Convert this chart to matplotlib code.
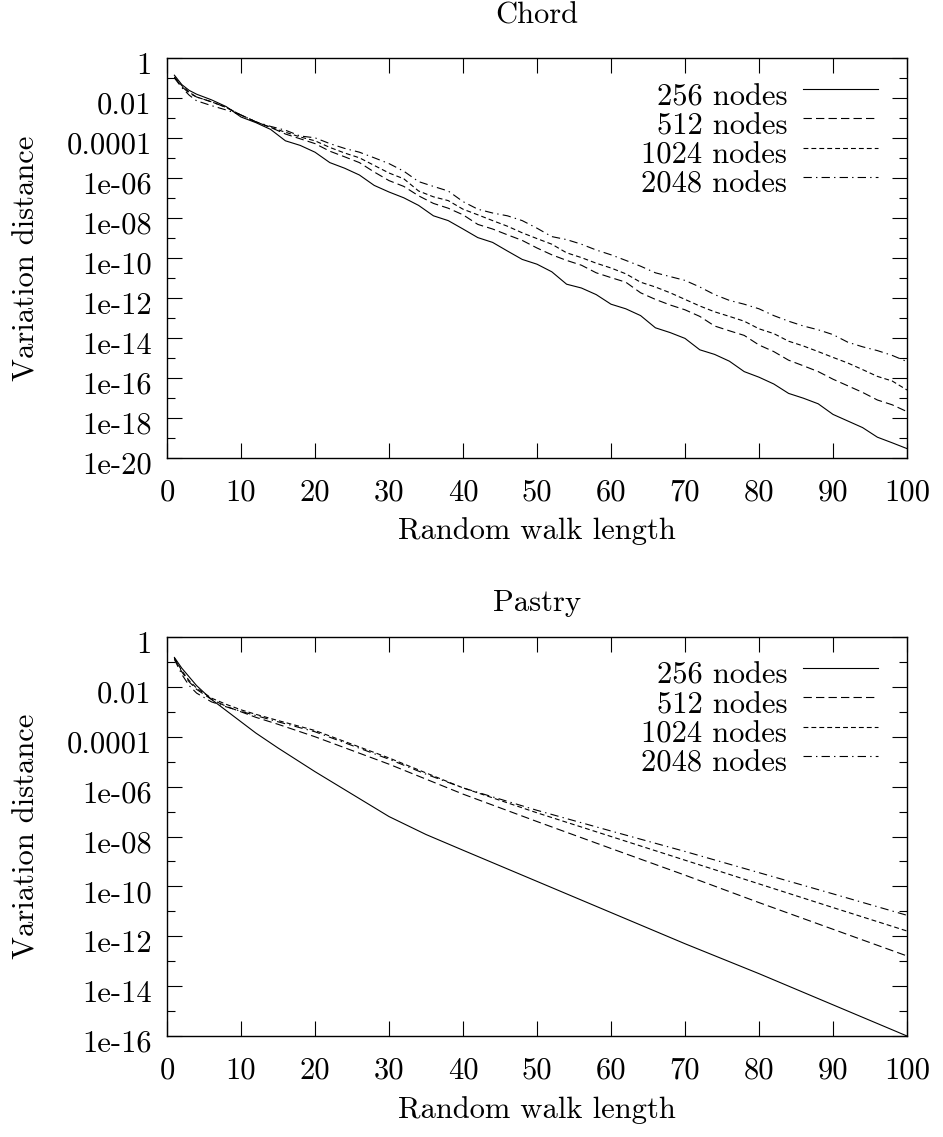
import numpy as np
import matplotlib
matplotlib.use("Agg")
import matplotlib.pyplot as plt
from matplotlib.ticker import FixedLocator, FixedFormatter, NullFormatter
from matplotlib.transforms import ScaledTranslation

plt.rcParams["font.family"] = ["cmr10", "DejaVu Serif"]
plt.rcParams["font.size"] = 22
plt.rcParams["axes.unicode_minus"] = False
plt.rcParams["lines.scale_dashes"] = False

# values are log10(variation distance)
chord_x = [1, 2, 3, 4, 6, 8, 10, 12, 14, 16, 18, 20, 22, 24, 26, 28, 30, 32, 34, 36,
           38, 40, 42, 44, 46, 48, 50, 52, 54, 56, 58, 60, 62, 64, 66, 68, 70, 72, 74,
           76, 78, 80, 82, 84, 86, 88, 90, 92, 94, 96, 98, 100]
chord_256 = [-0.86, -1.33, -1.62, -1.81, -2.09, -2.43, -2.95, -3.23, -3.57, -4.14,
             -4.37, -4.71, -5.23, -5.51, -5.85, -6.37, -6.70, -6.99, -7.37, -7.89,
             -8.13, -8.55, -8.98, -9.22, -9.65, -10.07, -10.31, -10.69, -11.31, -11.50,
             -11.83, -12.31, -12.54, -12.88, -13.49, -13.73, -14.02, -14.59, -14.82,
             -15.16, -15.68, -15.96, -16.30, -16.77, -17.01, -17.29, -17.82, -18.15,
             -18.48, -18.96, -19.24, -19.53]
chord_512 = [-0.95, -1.43, -1.76, -1.95, -2.19, -2.47, -2.85, -3.19, -3.47, -3.80,
             -4.04, -4.28, -4.66, -4.94, -5.23, -5.70, -6.13, -6.42, -6.89, -7.27,
             -7.51, -7.84, -8.32, -8.55, -8.84, -9.12, -9.50, -9.84, -10.12, -10.36,
             -10.74, -10.98, -11.21, -11.74, -12.07, -12.35, -12.59, -12.92, -13.40,
             -13.64, -13.87, -14.35, -14.68, -15.11, -15.39, -15.68, -16.06, -16.39,
             -16.72, -17.10, -17.34, -17.68]
chord_1024 = [-0.95, -1.38, -1.71, -1.95, -2.19, -2.47, -2.85, -3.19, -3.47, -3.71,
              -3.95, -4.14, -4.47, -4.75, -4.99, -5.37, -5.75, -6.04, -6.65, -6.94,
              -7.13, -7.56, -7.84, -8.13, -8.41, -8.74, -9.03, -9.31, -9.74, -9.98,
              -10.26, -10.50, -10.79, -11.21, -11.45, -11.74, -12.07, -12.40, -12.69,
              -12.92, -13.16, -13.54, -13.78, -14.16, -14.40, -14.68, -14.97, -15.25,
              -15.58, -15.92, -16.15, -16.60]
chord_2048 = [-1.00, -1.48, -1.86, -2.14, -2.38, -2.60, -2.85, -3.19, -3.42, -3.61,
              -3.90, -3.99, -4.28, -4.52, -4.71, -4.99, -5.28, -5.66, -6.18, -6.42,
              -6.65, -7.18, -7.56, -7.75, -7.89, -8.13, -8.51, -8.93, -9.08, -9.31,
              -9.60, -9.84, -10.12, -10.41, -10.74, -10.93, -11.12, -11.45, -11.83,
              -12.12, -12.31, -12.54, -12.88, -13.16, -13.40, -13.59, -13.83, -14.21,
              -14.44, -14.63, -14.87, -15.18]

pastry_x = [1, 2, 3, 4, 6, 8, 10, 12, 15, 20, 25, 30, 35, 40, 50, 60, 70, 80, 90, 100]
pastry_256 = [-0.82, -1.25, -1.60, -1.95, -2.50, -2.95, -3.40, -3.85, -4.45, -5.40,
              -6.30, -7.20, -7.92, -8.55, -9.80, -11.05, -12.30, -13.50, -14.75, -16.00]
pastry_512 = [-0.85, -1.40, -1.80, -2.10, -2.50, -2.78, -3.00, -3.22, -3.50, -4.00,
              -4.55, -5.10, -5.70, -6.30, -7.40, -8.48, -9.55, -10.65, -11.72, -12.79]
pastry_1024 = [-0.85, -1.35, -1.75, -2.05, -2.45, -2.70, -2.92, -3.10, -3.35, -3.75,
               -4.30, -4.85, -5.45, -6.05, -7.05, -8.00, -8.95, -9.90, -10.85, -11.79]
pastry_2048 = [-0.90, -1.50, -1.95, -2.25, -2.60, -2.80, -2.98, -3.15, -3.40, -3.80,
               -4.35, -4.90, -5.50, -6.05, -6.95, -7.78, -8.60, -9.45, -10.30, -11.16]

series_labels = ["256 nodes", "512 nodes", "1024 nodes", "2048 nodes"]
line_styles = ["-", (0, (6, 3)), (0, (3.5, 2.2)), (0, (6, 3, 1, 3))]

chord_yticks = ["1", "0.01", "0.0001", "1e-06", "1e-08", "1e-10", "1e-12",
                "1e-14", "1e-16", "1e-18", "1e-20"]
pastry_yticks = ["1", "0.01", "0.0001", "1e-06", "1e-08", "1e-10", "1e-12",
                 "1e-14", "1e-16"]
xticks = [0, 10, 20, 30, 40, 50, 60, 70, 80, 90, 100]

W, H = 943, 1137
fig = plt.figure(figsize=(W / 100, H / 100), dpi=100)


def panel(top_px, bottom_px, title, title_px, xlabel_px, x, ys, ylabels):
    ax = fig.add_axes([167 / W, 1 - bottom_px / H, 740 / W, (bottom_px - top_px) / H])
    for y, ls in zip(ys, line_styles):
        ax.plot(x, 10.0 ** np.array(y), color="black", linewidth=0.8, linestyle=ls)
    n = len(ylabels)
    ax.set_yscale("log")
    ax.set_xlim(0, 100)
    ax.set_ylim(10.0 ** (-2 * (n - 1)), 1)
    major = [10.0 ** (-2 * i) for i in range(n)]
    minor = [10.0 ** (-2 * i - 1) for i in range(n - 1)]
    ax.yaxis.set_major_locator(FixedLocator(major))
    ax.yaxis.set_major_formatter(FixedFormatter(ylabels))
    ax.yaxis.set_minor_locator(FixedLocator(minor))
    ax.yaxis.set_minor_formatter(NullFormatter())
    ax.set_xticks(xticks)
    ax.set_xticklabels([str(t) for t in xticks])
    ax.tick_params(which="both", direction="in", top=True, right=True, width=0.8)
    ax.tick_params(which="major", length=11)
    ax.tick_params(which="minor", length=5.5)
    ax.tick_params(axis="x", pad=15)
    ax.tick_params(axis="y", pad=11)
    for s in ax.spines.values():
        s.set_linewidth(1.0)
    # gnuplot puts the y labels a few pixels below their ticks
    shift = ScaledTranslation(0, -5 / 100, fig.dpi_scale_trans)
    for lbl in ax.get_yticklabels():
        lbl.set_transform(lbl.get_transform() + shift)

    # gnuplot-style key: right-justified text, sample to the right
    h = bottom_px - top_px
    for i, (lab, ls) in enumerate(zip(series_labels, line_styles)):
        yf = 1 - (31 + 29.3 * i) / h
        ax.text(0.838, yf - 16 / h, lab, transform=ax.transAxes, ha="right", va="baseline")
        ax.plot([0.859, 0.961], [yf, yf], transform=ax.transAxes, color="black",
                linewidth=0.8, linestyle=ls)

    cx = 0.5 * (167 + 907) / W
    fig.text(cx, 1 - title_px / H, title, ha="center", va="baseline")
    fig.text(cx, 1 - xlabel_px / H, "Random walk length", ha="center", va="center")
    fig.text(27 / W, 1 - 0.5 * (top_px + bottom_px) / H, "Variation distance",
             rotation=90, ha="center", va="center")
    return ax


panel(58, 458, "Chord", 24, 531, chord_x,
      [chord_256, chord_512, chord_1024, chord_2048], chord_yticks)
panel(637, 1036, "Pastry", 611, 1110, pastry_x,
      [pastry_256, pastry_512, pastry_1024, pastry_2048], pastry_yticks)

fig.savefig("out.png", dpi=100)
